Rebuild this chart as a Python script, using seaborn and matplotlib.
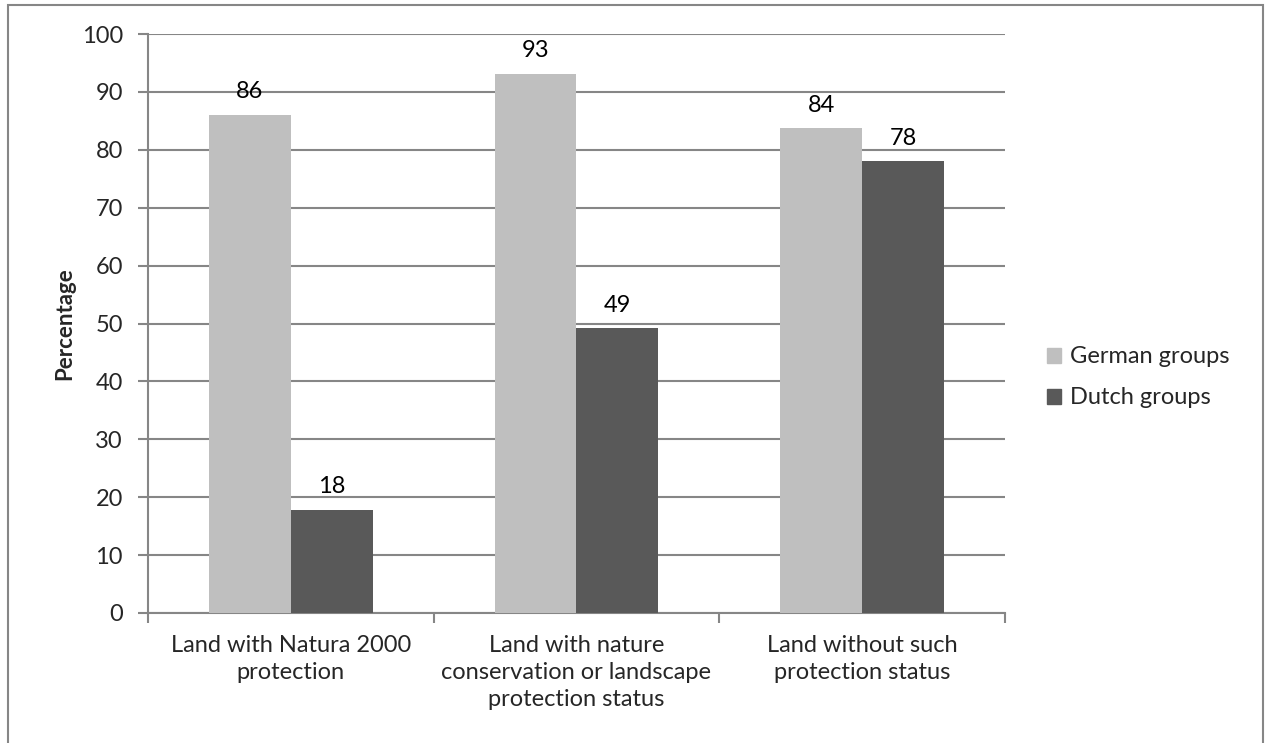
import matplotlib
matplotlib.use("Agg")
import matplotlib.pyplot as plt
import matplotlib.patches as mpatches
from matplotlib.ticker import FixedLocator
import seaborn as sns
import pandas as pd

categories = [
    "Land with Natura 2000\nprotection",
    "Land with nature\nconservation or landscape\nprotection status",
    "Land without such\nprotection status",
]
german_groups = [86.1, 93.1, 83.7]
dutch_groups = [17.8, 49.2, 78.0]
series_names = ["German groups", "Dutch groups"]
y_ticks = [0, 10, 20, 30, 40, 50, 60, 70, 80, 90, 100]

df = pd.DataFrame({
    "category": categories * 2,
    "value": german_groups + dutch_groups,
    "group": [series_names[0]] * 3 + [series_names[1]] * 3,
})

sns.set_theme(style="white")
plt.rcParams["font.family"] = ["Lato", "DejaVu Sans"]

grid_color = "#868686"
fs = 17

fig = plt.figure(figsize=(12.67, 7.43), dpi=100)
ax = fig.add_axes([0.1168, 0.1750, 0.6764, 0.7792])

sns.barplot(
    data=df, x="category", y="value", hue="group",
    order=categories, hue_order=series_names,
    palette=["#BFBFBF", "#595959"], width=0.573, gap=0,
    saturation=1, edgecolor="none", linewidth=0, ax=ax, zorder=3,
)

for cont in ax.containers:
    ax.bar_label(cont, fmt="%.0f", padding=9, fontsize=fs, color="black")

ax.set_xlim(-0.5, 2.5)
ax.set_ylim(0, 100)
ax.set_yticks(y_ticks)
ax.set_yticklabels([str(t) for t in y_ticks], fontsize=fs)
ax.yaxis.grid(True, color=grid_color, linewidth=1.5, zorder=0)
ax.set_axisbelow(True)

ax.set_xticks(range(len(categories)))
ax.set_xticklabels(categories, fontsize=fs, linespacing=1.35)
ax.xaxis.set_minor_locator(FixedLocator([-0.5, 0.5, 1.5, 2.5]))
ax.tick_params(axis="x", which="major", length=0, pad=16)
ax.tick_params(axis="x", which="minor", length=7, width=1.5, color=grid_color, direction="out", bottom=True)
ax.tick_params(axis="y", length=7, width=1.5, color=grid_color, direction="out", left=True, pad=11)

for side in ["top", "right"]:
    ax.spines[side].set_visible(False)
for side in ["left", "bottom"]:
    ax.spines[side].set_color(grid_color)
    ax.spines[side].set_linewidth(1.5)

ax.set_xlabel("")
ax.set_ylabel("Percentage", fontsize=fs - 1, fontweight="bold", labelpad=5)

handles = [mpatches.Patch(color=c, label=n) for c, n in zip(["#BFBFBF", "#595959"], series_names)]
ax.get_legend().remove()
fig.legend(
    handles=handles, loc="center left", bbox_to_anchor=(0.826, 0.492),
    frameon=False, fontsize=fs, handlelength=0.6, handleheight=0.6,
    handletextpad=0.4, labelspacing=0.85, borderpad=0, borderaxespad=0,
)

# chart area border
fig.patches.append(mpatches.Rectangle(
    (8 / 1267, -0.05), (1263 - 8) / 1267, 1.05 - 5 / 743,
    transform=fig.transFigure, fill=False, edgecolor=grid_color, linewidth=1.5,
))

fig.savefig("out.png", dpi=100, facecolor="white")
